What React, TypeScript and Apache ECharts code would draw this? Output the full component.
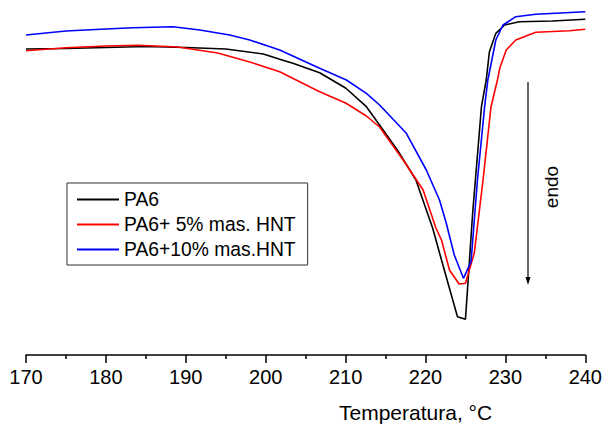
import React, { useEffect, useRef } from "react";
import * as echarts from "echarts";

const FONT = "'Liberation Sans', Arial, sans-serif";

const seriesNames = ["PA6", "PA6+ 5% mas. HNT", "PA6+10% mas.HNT"];
const seriesColors = ["#000000", "#ff0000", "#0000ff"];

const pa6Temp = [170, 175, 180, 185, 190, 195, 199.7, 201.75, 203.4, 206.75, 210, 212.6, 214.7, 216.75, 218.8, 220.9, 222, 224, 225, 225.9, 227, 227.6, 228, 228.8, 229.9, 231.75, 235.9, 240];
const pa6Flow = [306, 306.5, 307.5, 308.5, 307.5, 306, 301, 295.7, 291.7, 282.3, 267, 248.3, 225, 201.7, 175, 126.7, 95, 38.3, 35.7, 141.7, 248.3, 275, 303.3, 321.7, 330, 333.3, 334, 335.7];

const hnt5Temp = [170, 175, 180, 184, 189, 194, 198, 201.75, 206.75, 210, 212.6, 214.25, 217.2, 219.7, 221.3, 222, 223, 224.2, 225, 226.1, 227.2, 228.2, 229, 229.3, 230.1, 231.3, 233.8, 238, 240];
const hnt5Flow = [304.3, 307.3, 309, 309.7, 308, 302, 293, 283.3, 263.3, 252, 239, 228, 195, 165, 127, 115, 85, 71, 71.7, 101.7, 175, 248.3, 275, 287, 305, 315, 322.7, 324.3, 325.7];

const hnt10Temp = [170, 175, 180, 183.4, 188.4, 191.75, 193.8, 195.5, 198, 201.75, 206.75, 210.1, 212.6, 214.25, 217.6, 220.1, 221.75, 222.6, 223.6, 224.75, 225.7, 226.5, 227.4, 227.8, 228.8, 229.7, 231.3, 233.8, 240];
const hnt10Flow = [320, 324, 326, 327.3, 328.3, 325, 322.3, 320, 315, 305, 286.7, 275, 261.7, 250, 221.7, 185, 155, 131.7, 100, 76.7, 93.3, 175, 248.3, 275, 315, 330, 338.3, 340.7, 343.3];

const xMin = 170;
const xMax = 240;
const xInterval = 10;

const xTitle = "Temperatura, °C";
const arrowLabel = "endo";

const zip = (a: number[], b: number[]) => a.map((t, i) => [t, b[i]]);

export default function App() {
  const ref = useRef<HTMLDivElement>(null);
  useEffect(() => {
    if (!ref.current) return;
    const chart = echarts.init(ref.current, undefined, { renderer: "svg" });
    const temps = [pa6Temp, hnt5Temp, hnt10Temp];
    const flows = [pa6Flow, hnt5Flow, hnt10Flow];
    chart.setOption({
      animation: false,
      backgroundColor: "#ffffff",
      grid: { left: 26, right: 19, top: 0, bottom: 73 },
      legend: {
        orient: "vertical",
        left: 67,
        top: 183,
        padding: [7, 12, 6, 9],
        itemGap: 6,
        itemWidth: 42,
        itemHeight: 2,
        borderColor: "#333333",
        borderWidth: 1,
        data: seriesNames,
        itemStyle: { opacity: 0 },
        textStyle: { fontFamily: FONT, fontSize: 19.3, color: "#000000" },
      },
      xAxis: {
        type: "value",
        min: xMin,
        max: xMax,
        interval: xInterval,
        axisLine: { show: true, lineStyle: { color: "#000000", width: 1.5 } },
        axisTick: { show: true, inside: false, length: 8, lineStyle: { color: "#000000", width: 1.5 } },
        minorTick: { show: true, splitNumber: 2, length: 4, lineStyle: { color: "#000000", width: 1.5 } },
        splitLine: { show: false },
        axisLabel: { fontFamily: FONT, fontSize: 20, color: "#000000", margin: 12 },
      },
      yAxis: {
        type: "value",
        min: 0,
        max: 355,
        show: false,
        splitLine: { show: false },
      },
      graphic: [
        {
          type: "text",
          left: 339,
          top: 402,
          style: { text: xTitle, fontFamily: FONT, fontSize: 21, fill: "#000000" },
        },
        {
          type: "line",
          shape: { x1: 528, y1: 82, x2: 528, y2: 280 },
          style: { stroke: "#000000", lineWidth: 1.2 },
        },
        {
          type: "polygon",
          shape: { points: [[525.5, 277], [530.5, 277], [528, 285]] },
          style: { fill: "#000000" },
        },
        {
          type: "text",
          x: 551,
          y: 187,
          rotation: Math.PI / 2,
          style: {
            text: arrowLabel,
            fontFamily: FONT,
            fontSize: 19,
            fill: "#000000",
            align: "center",
            verticalAlign: "middle",
          },
        },
      ],
      series: seriesNames.map((name, i) => ({
        name,
        type: "line",
        data: zip(temps[i], flows[i]),
        symbol: "none",
        showSymbol: false,
        lineStyle: { color: seriesColors[i], width: 1.6 },
        itemStyle: { color: seriesColors[i] },
      })),
    });
    return () => chart.dispose();
  }, []);
  return (
    <div
      ref={ref}
      style={{ position: "fixed", left: 0, top: 0, width: 605, height: 428 }}
    />
  );
}
